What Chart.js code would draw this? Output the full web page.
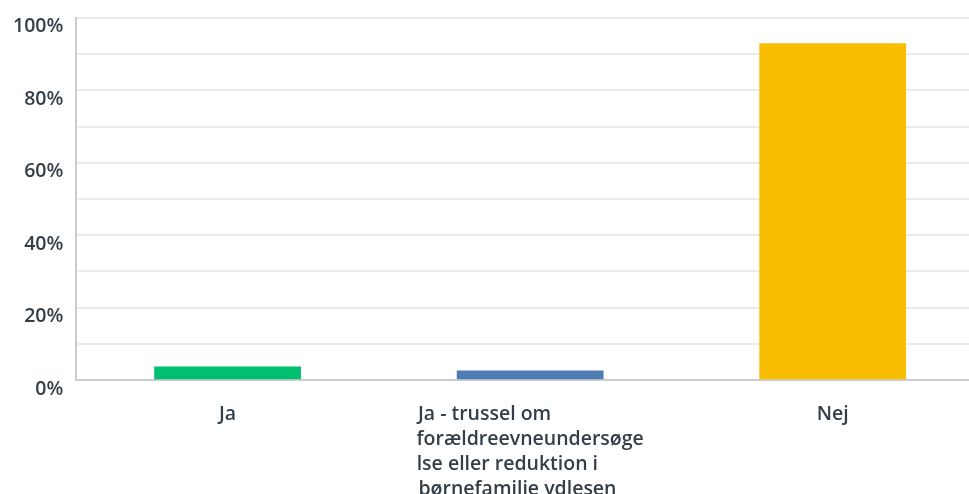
<!DOCTYPE html>
<html>
<head>
<meta charset="utf-8">
<script src="https://cdn.jsdelivr.net/npm/chart.js@4"></script>
<style>
  html, body { margin:0; padding:0; background:#fff; overflow:hidden; }
  #wrap { position:relative; width:984px; height:494px; }
</style>
</head>
<body>
<div id="wrap"><canvas id="answerChart"></canvas></div>
<script>
/* ---- data ---- */
const categories = [
  'Ja',
  ['Ja - trussel om                  ', 'forældreevneundersøge', 'lse eller reduktion i         ', 'børnefamilie ydlesen     '],
  'Nej'
];
const percentages = [3.8, 2.7, 93.0];
const barColors = ['#00bf6f', '#507cb6', '#f9be00'];
const yTickLabels = [0, 20, 40, 60, 80, 100];

const textColor = '#333e48';
const xFont = { family: 'Open Sans', size: 19.5, weight: '600', lineHeight: 1.28 };
const yFont = { family: 'Open Sans', size: 19.5, weight: '600', lineHeight: 0.5 };

new Chart(document.getElementById('answerChart'), {
  type: 'bar',
  data: {
    labels: categories,
    datasets: [{
      data: percentages,
      backgroundColor: barColors,
      borderWidth: 0,
      categoryPercentage: 1,
      barPercentage: 0.485
    }]
  },
  options: {
    responsive: true, maintainAspectRatio: false, animation: false,
    layout: { padding: { top: 0, left: 0, right: 0, bottom: -30 } },
    plugins: { legend: { display: false }, tooltip: { enabled: false } },
    scales: {
      y: {
        min: 0, max: 100,
        ticks: {
          stepSize: 10, color: textColor, font: yFont, padding: 13, labelOffset: 9,
          callback: v => yTickLabels.includes(v) ? v + '%' : ''
        },
        grid: { color: '#ebebeb', lineWidth: 2, drawTicks: false },
        border: { color: '#cccccc', width: 2 }
      },
      x: {
        ticks: { color: textColor, font: xFont, padding: 22, maxRotation: 0, autoSkip: false },
        grid: { display: false, drawTicks: false },
        border: { color: '#cccccc', width: 2 }
      }
    }
  }
});
</script>
</body>
</html>
